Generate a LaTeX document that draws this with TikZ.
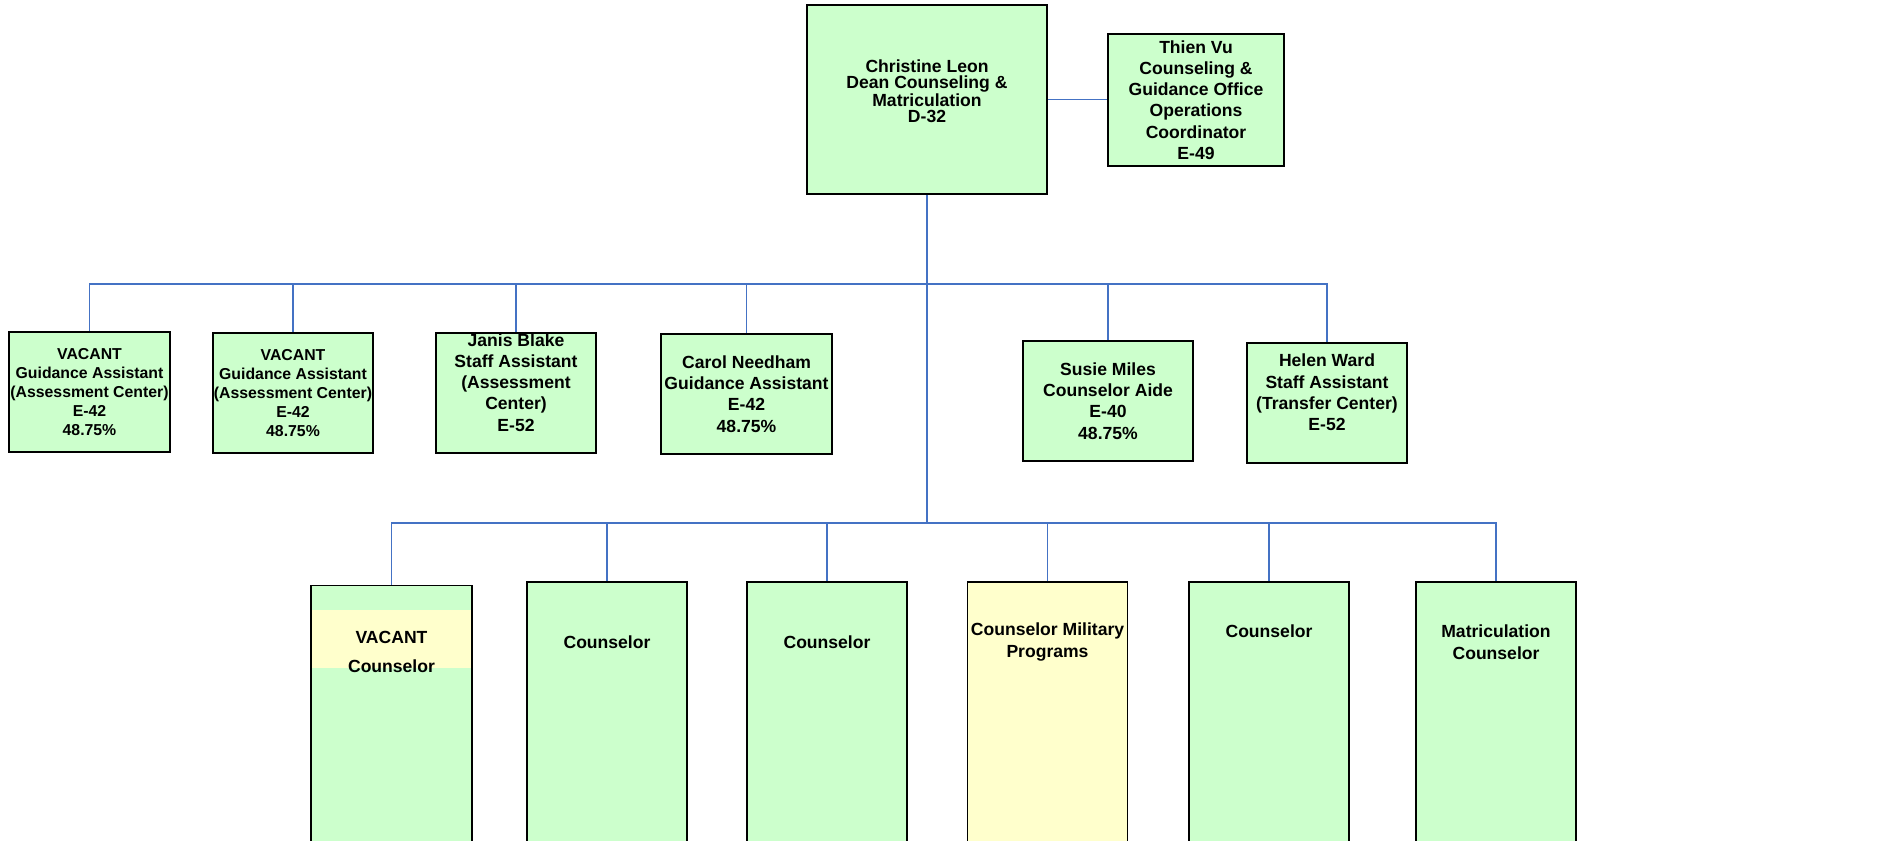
\documentclass[tikz,border=0pt]{standalone}
\usepackage{fontspec}
\setmainfont{Liberation Sans}
\usepackage{tikz}

\definecolor{boxgreen}{RGB}{204,255,204}
\definecolor{boxyellow}{RGB}{255,255,204}
\definecolor{linkblue}{RGB}{68,114,196}

\begin{document}
\begin{tikzpicture}[x=0.02cm, y=-0.02cm,
    postbox/.style={draw=black, line width=0.9pt, fill=boxgreen, align=center, inner sep=0pt,
        minimum width=3.2cm, minimum height=2.4cm, font=\bfseries\fontsize{10}{12.1}\selectfont},
    smallpost/.style={font=\bfseries\fontsize{9}{10.9}\selectfont},
    seat/.style={postbox, minimum height=6.36cm},
    seattext/.style={align=center, inner sep=0pt, font=\bfseries\fontsize{10}{12.2}\selectfont},
    link/.style={draw=linkblue, line width=0.8pt}]
    \path[use as bounding box, fill=white] (0,0) rectangle (1886,841);

    % top
    \node[postbox, minimum width=4.8cm, minimum height=3.78cm,
        font=\bfseries\fontsize{10}{9.1}\selectfont] (dean) at (927,99.5)
        {Christine Leon\\Dean Counseling \&\\Matriculation\\D-32\\};
    \node[postbox, minimum width=3.52cm, minimum height=2.64cm] (thien) at (1196,100)
        {Thien Vu\\Counseling \&\\Guidance Office\\Operations\\Coordinator\\E-49};

    % middle row
    \node[postbox, smallpost, minimum width=3.22cm] (m1) at (89.5,392)
        {VACANT\\Guidance Assistant\\(Assessment Center)\\E-42\\48.75\%};
    \node[postbox, smallpost] (m2) at (293,393)
        {VACANT\\Guidance Assistant\\(Assessment Center)\\E-42\\48.75\%};
    \node[postbox] (m3) at (516,393)
        {Janis Blake\\Staff Assistant\\(Assessment\\Center)\\E-52\\};
    \node[postbox, minimum width=3.42cm] (m4) at (746.5,394)
        {Carol Needham\\Guidance Assistant\\E-42\\48.75\%};
    \node[postbox, minimum width=3.4cm] (m5) at (1108,401)
        {Susie Miles\\Counselor Aide\\E-40\\48.75\%};
    \node[postbox] (m6) at (1327,403)
        {Helen Ward\\Staff Assistant\\(Transfer Center)\\E-52\\};

    % bottom row
    \node[seat, minimum width=3.22cm, minimum height=6.3cm] (b1) at (391.5,743) {};
    \fill[boxyellow] (311.8,610) rectangle (471.2,668);
    \node[seat] (b2) at (607,741) {};
    \node[seat] (b3) at (827,741) {};
    \node[seat, fill=boxyellow] (b4) at (1047.5,741) {};
    \node[seat] (b5) at (1269,741) {};
    \node[seat] (b6) at (1496,741) {};
    \node[seattext] (b1t) at (b1 |- 0,652) {VACANT\\[4.5pt]Counselor};
    \node[seattext] (b2t) at (b2 |- 0,642) {Counselor};
    \node[seattext] (b3t) at (b3 |- 0,642) {Counselor};
    \node[seattext] (b4t) at (b4 |- 0,642) {Counselor Military\\Programs};
    \node[seattext] (b5t) at (b5 |- 0,631) {Counselor};
    \node[seattext] (b6t) at (b6 |- 0,642) {Matriculation\\Counselor};

    % connectors
    \coordinate (midbus) at (dean.south |- 0,284);
    \coordinate (lowbus) at (dean.south |- 0,523);
    \draw[link] (dean.east) -- (dean.east -| thien.west);
    \draw[link] (dean.south) -- (lowbus);
    \draw[link] (m1.north) |- (midbus) -| (m6.north);
    \foreach \m in {m2,m3,m4,m5}
        \draw[link] (\m.north) -- (\m.north |- midbus);
    \draw[link] (b1.north) |- (lowbus) -| (b6.north);
    \foreach \b in {b2,b3,b4,b5}
        \draw[link] (\b.north) -- (\b.north |- lowbus);
\end{tikzpicture}
\end{document}
